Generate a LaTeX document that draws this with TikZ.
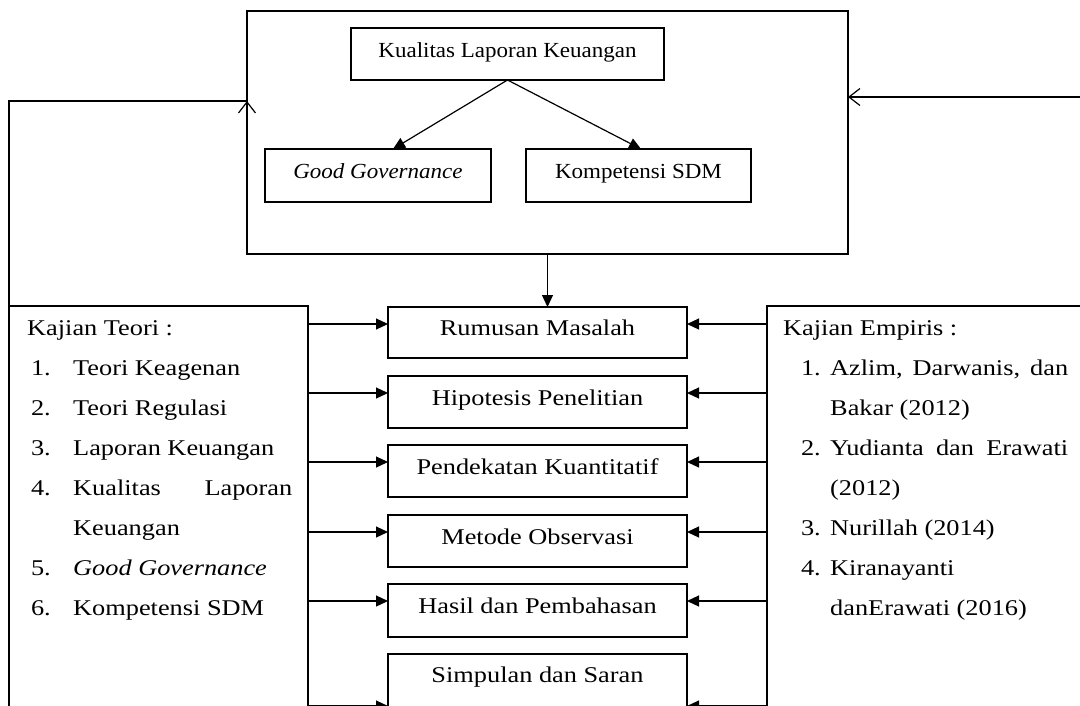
\documentclass[tikz,border=0pt]{standalone}
\usepackage{fontspec}
\setmainfont{Liberation Serif}
\newfontfamily\topfont[FakeStretch=1.07]{Liberation Serif}
\newfontfamily\lowfont[FakeStretch=1.17]{Liberation Serif}
\usetikzlibrary{arrows.meta,calc}
\begin{document}
\begin{tikzpicture}[x=1pt,y=-1pt,
  box/.style={draw,line width=1.2pt,rectangle,inner sep=0pt,outer sep=0pt,text height=15pt,text depth=9pt},
  topbox/.style={box,font=\topfont\fontsize{21.5}{26}\selectfont},
  lowbox/.style={box,font=\lowfont\fontsize{22.5}{27}\selectfont},
  line/.style={line width=1.2pt},
  tri/.style={line width=1.2pt,-{Triangle[length=12pt,width=11pt]}},
  barb/.style={line width=1.2pt,-{Straight Barb[length=11pt,width=17pt]}},
  txt/.style={anchor=base west,inner sep=0pt,font=\lowfont\fontsize{22.5}{27}\selectfont},
  num/.style={anchor=base east,inner sep=0pt,font=\lowfont\fontsize{22.5}{27}\selectfont}]
\useasboundingbox (0,0) rectangle (1080,705);

% top framework box
\node[box,minimum width=601pt,minimum height=243pt] (top) at (547.5,132.5) {};
\node[topbox,minimum width=313pt,minimum height=52pt] (kl) at (507.5,54) {Kualitas Laporan Keuangan};
\node[topbox,minimum width=226pt,minimum height=53pt] (gg) at (378,175.5) {\textit{Good Governance}};
\node[topbox,minimum width=225pt,minimum height=53pt] (ks) at (638.5,175.5) {Kompetensi SDM};

% middle column
\node[lowbox,minimum width=299pt,minimum height=51pt] (r1) at (537.5,332.5) {Rumusan Masalah};
\node[lowbox,minimum width=299pt,minimum height=52pt] (r2) at (537.5,402) {Hipotesis Penelitian};
\node[lowbox,minimum width=299pt,minimum height=52pt] (r3) at (537.5,471) {Pendekatan Kuantitatif};
\node[lowbox,minimum width=299pt,minimum height=52pt] (r4) at (537.5,541) {Metode Observasi};
\node[lowbox,minimum width=299pt,minimum height=53pt] (r5) at (537.5,610.5) {Hasil dan Pembahasan};
\node[box,minimum width=299pt,minimum height=71pt] (r6) at (537.5,689.5) {};
\node[txt,anchor=base] (r6t) at (537.5,682) {Simpulan dan Saran};

% side boxes
\node[box,minimum width=299pt,minimum height=424pt] (lt) at (158.5,518) {};
\node[box,minimum width=318pt,minimum height=424pt] (rt) at (926,518) {};

% left list
\node[txt] (kt) at (27,335) {Kajian Teori :};
\node[num] (ln1) at (51,375) {1.};
\node[txt] (l1) at (73,375) {Teori Keagenan};
\node[num] (ln2) at (51,415) {2.};
\node[txt] (l2) at (73,415) {Teori Regulasi};
\node[num] (ln3) at (51,455) {3.};
\node[txt] (l3) at (73,455) {Laporan Keuangan};
\node[num] (ln4) at (51,495) {4.};
\node[txt] (l4) at (73,495) {\hbox to 219pt{Kualitas\hfill Laporan}};
\node[txt] (l4b) at (73,535) {Keuangan};
\node[num] (ln5) at (51,575) {5.};
\node[txt] (l5) at (73,575) {\textit{Good Governance}};
\node[num] (ln6) at (51,615) {6.};
\node[txt] (l6) at (73,615) {Kompetensi SDM};

% right list
\node[txt] (ke) at (783,335) {Kajian Empiris :};
\node[num] (rn1) at (821,375) {1.};
\node[txt] (e1) at (830,375) {\hbox to 238pt{Azlim,\hfill Darwanis,\hfill dan}};
\node[txt] (e1b) at (830,415) {Bakar (2012)};
\node[num] (rn2) at (821,455) {2.};
\node[txt] (e2) at (830,455) {\hbox to 238pt{Yudianta\hfill dan\hfill Erawati}};
\node[txt] (e2b) at (830,495) {(2012)};
\node[num] (rn3) at (821,535) {3.};
\node[txt] (e3) at (830,535) {Nurillah (2014)};
\node[num] (rn4) at (821,575) {4.};
\node[txt] (e4) at (830,575) {Kiranayanti};
\node[txt] (e4b) at (830,615) {danErawati (2016)};

% connectors inside top box
\draw[tri] (kl.south) -- ([xshift=15pt]gg.north);
\draw[tri] (kl.south) -- ([xshift=2.5pt]ks.north);
\draw[tri] (top.south) -- (top.south |- r1.north);

% feedback loops
\coordinate (lh) at (0,101);
\coordinate (rh) at (0,97);
\draw[line] (lt.north west) |- (top.west |- lh);
\draw[barb] ($(top.west |- lh)+(0,12)$) -- (top.west |- lh);
\draw[barb] (rt.north east) |- (top.east |- rh);

% side arrows into the middle column
\foreach \b in {r1,r2,r3,r4,r5} {
  \path ($(\b.north west)+(0,17)$) coordinate (\b-L)
        ($(\b.north east)+(0,17)$) coordinate (\b-R);
  \draw[tri] (lt.east |- \b-L) -- (\b-L);
  \draw[tri] (rt.west |- \b-R) -- (\b-R);
}
\path ($(r6.north west)+(0,52)$) coordinate (r6-L)
      ($(r6.north east)+(0,52)$) coordinate (r6-R);
\draw[tri] (lt.east |- r6-L) -- (r6-L);
\draw[tri] (rt.west |- r6-R) -- (r6-R);
\end{tikzpicture}
\end{document}
